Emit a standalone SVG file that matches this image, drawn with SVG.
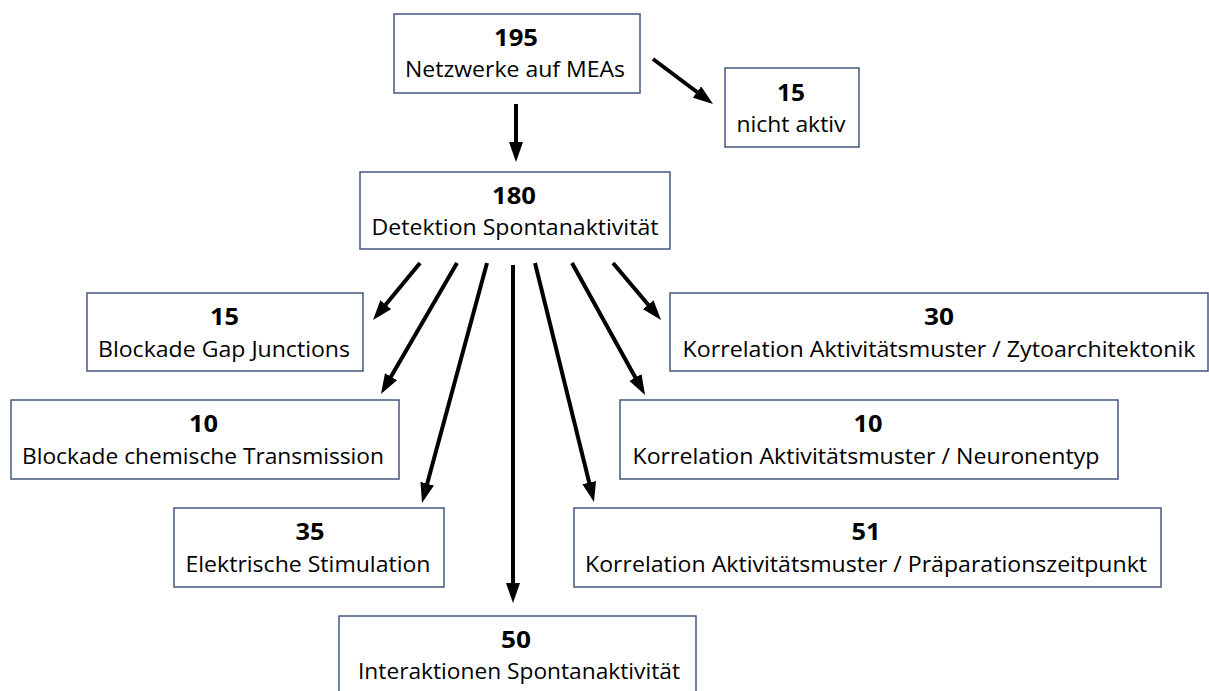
<svg xmlns="http://www.w3.org/2000/svg" width="1209" height="691" viewBox="0 0 1209 691">
<style>
.box{fill:#ffffff;stroke:#44557f;stroke-width:1.5}
.num{font-family:"Open Sans","Liberation Sans",sans-serif;font-weight:bold;font-size:24px;fill:#000;text-anchor:middle}
.lbl{font-family:"Open Sans","Liberation Sans",sans-serif;font-size:21px;fill:#000;text-anchor:middle}
.arr{stroke:#000;stroke-width:4;fill:none;marker-end:url(#ah)}
</style>
<defs>
<marker id="ah" markerUnits="userSpaceOnUse" markerWidth="20" markerHeight="14" refX="10" refY="7" orient="auto">
<path d="M0,0 L20,7 L0,14 z" fill="#000"/>
</marker>
</defs>
<rect width="1209" height="691" fill="#ffffff"/>
<g id="connectors">
<line class="arr" x1="516" y1="104" x2="516" y2="152"/>
<line class="arr" x1="653" y1="59" x2="705" y2="98"/>
<line class="arr" x1="420" y1="263" x2="379.4" y2="312.3"/>
<line class="arr" x1="457" y1="263" x2="386" y2="385.3"/>
<line class="arr" x1="487" y1="263" x2="424.6" y2="493.3"/>
<line class="arr" x1="513" y1="265" x2="513" y2="593"/>
<line class="arr" x1="535" y1="263" x2="591.6" y2="492.3"/>
<line class="arr" x1="572" y1="263" x2="640.2" y2="386.2"/>
<line class="arr" x1="613" y1="263" x2="654.6" y2="312.3"/>
</g>
<g id="n195">
<rect class="box" x="394" y="14" width="246" height="79"/>
<text class="num" x="516" y="46" textLength="44" lengthAdjust="spacingAndGlyphs">195</text>
<text class="lbl" x="515" y="77" textLength="220" lengthAdjust="spacingAndGlyphs">Netzwerke auf MEAs</text>
</g>
<g id="n15a">
<rect class="box" x="725" y="68" width="134" height="79"/>
<text class="num" x="791" y="101" textLength="28" lengthAdjust="spacingAndGlyphs">15</text>
<text class="lbl" x="791" y="132" textLength="109" lengthAdjust="spacingAndGlyphs">nicht aktiv</text>
</g>
<g id="n180">
<rect class="box" x="360" y="172" width="310" height="77"/>
<text class="num" x="514" y="204" textLength="44" lengthAdjust="spacingAndGlyphs">180</text>
<text class="lbl" x="515" y="235" textLength="287" lengthAdjust="spacingAndGlyphs">Detektion Spontanaktivität</text>
</g>
<g id="n15b">
<rect class="box" x="87" y="293" width="276" height="78"/>
<text class="num" x="224.5" y="325" textLength="29" lengthAdjust="spacingAndGlyphs">15</text>
<text class="lbl" x="224" y="357" textLength="252" lengthAdjust="spacingAndGlyphs">Blockade Gap Junctions</text>
</g>
<g id="n10a">
<rect class="box" x="11" y="400" width="388" height="79"/>
<text class="num" x="203.5" y="432" textLength="29" lengthAdjust="spacingAndGlyphs">10</text>
<text class="lbl" x="203" y="464" textLength="362" lengthAdjust="spacingAndGlyphs">Blockade chemische Transmission</text>
</g>
<g id="n35">
<rect class="box" x="174" y="508" width="270" height="79"/>
<text class="num" x="310" y="540" textLength="29" lengthAdjust="spacingAndGlyphs">35</text>
<text class="lbl" x="308" y="572" textLength="245" lengthAdjust="spacingAndGlyphs">Elektrische Stimulation</text>
</g>
<g id="n50">
<rect class="box" x="339" y="616" width="357" height="80"/>
<text class="num" x="516" y="648" textLength="30" lengthAdjust="spacingAndGlyphs">50</text>
<text class="lbl" x="519" y="679" textLength="322" lengthAdjust="spacingAndGlyphs">Interaktionen Spontanaktivität</text>
</g>
<g id="n30">
<rect class="box" x="670" y="293" width="538" height="78"/>
<text class="num" x="939" y="325" textLength="30" lengthAdjust="spacingAndGlyphs">30</text>
<text class="lbl" x="939" y="357" textLength="513" lengthAdjust="spacingAndGlyphs">Korrelation Aktivitätsmuster / Zytoarchitektonik</text>
</g>
<g id="n10b">
<rect class="box" x="620" y="400" width="498" height="79"/>
<text class="num" x="868" y="432" textLength="29" lengthAdjust="spacingAndGlyphs">10</text>
<text class="lbl" x="866" y="464" textLength="467" lengthAdjust="spacingAndGlyphs">Korrelation Aktivitätsmuster / Neuronentyp</text>
</g>
<g id="n51">
<rect class="box" x="574" y="508" width="587" height="79"/>
<text class="num" x="866" y="540" textLength="29" lengthAdjust="spacingAndGlyphs">51</text>
<text class="lbl" x="866" y="572" textLength="562" lengthAdjust="spacingAndGlyphs">Korrelation Aktivitätsmuster / Präparationszeitpunkt</text>
</g>
</svg>
